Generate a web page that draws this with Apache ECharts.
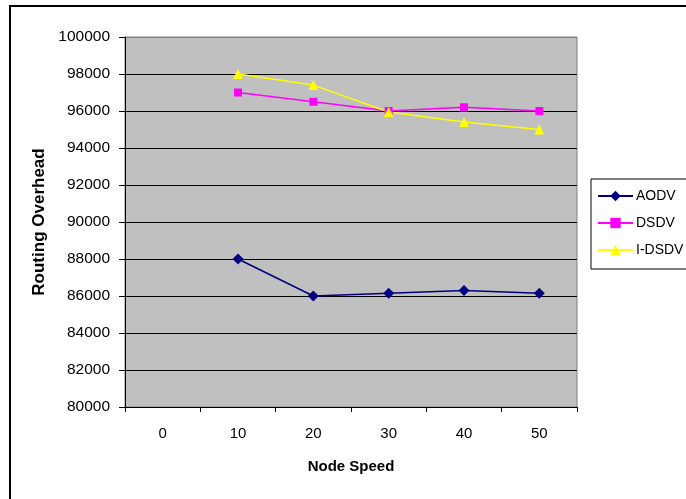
<!DOCTYPE html>
<html>
<head>
<meta charset="utf-8">
<script src="https://cdn.jsdelivr.net/npm/echarts@6/dist/echarts.min.js"></script>
<style>html,body{margin:0;padding:0;background:#fff}#c{width:686px;height:499px}</style>
</head>
<body>
<div id="c"></div>
<script>
const categories = ['0', '10', '20', '30', '40', '50'];
const aodv = [null, 88000, 86000, 86150, 86300, 86150];
const dsdv = [null, 97000, 96500, 96000, 96200, 96000];
const idsdv = [null, 98000, 97400, 95950, 95400, 95000];

const chart = echarts.init(document.getElementById('c'), null, {renderer: 'canvas'});
const font = 'Liberation Sans, Arial, sans-serif';
const gridColors = ['#000','#000','#000','#000','#000','#000','#000','#000','#000','#000','#808080'];
chart.setOption({
  animation: false,
  backgroundColor: '#fff',
  textStyle: {fontFamily: font},
  graphic: [{
    type: 'rect', z: -1, silent: true,
    shape: {x: 10, y: 6, width: 800, height: 600},
    style: {fill: 'none', stroke: '#000', lineWidth: 2}
  }],
  grid: {left: 125, top: 37, width: 452, height: 370, show: true,
         backgroundColor: '#C0C0C0', borderColor: '#808080', borderWidth: 1},
  legend: {
    orient: 'vertical', left: 591, top: 179,
    padding: [10, 60, 12, 6], itemGap: 13, itemWidth: 35, itemHeight: 13,
    borderColor: '#000', borderWidth: 1, backgroundColor: '#fff',
    textStyle: {fontFamily: font, fontSize: 14, color: '#000', padding: [0,0,0,-2]},
    data: ['AODV', 'DSDV', 'I-DSDV']
  },
  xAxis: {
    type: 'category', data: categories, boundaryGap: true,
    name: 'Node Speed', nameLocation: 'middle', nameGap: 52,
    nameTextStyle: {fontFamily: font, fontSize: 15, fontWeight: 'bold', color: '#000'},
    axisLine: {lineStyle: {color: '#000', width: 1}},
    axisTick: {show: true, length: 5, lineStyle: {color: '#000'}},
    axisLabel: {fontFamily: font, fontSize: 15, color: '#000', margin: 19},
    splitLine: {show: false}
  },
  yAxis: {
    type: 'value', min: 80000, max: 100000, interval: 2000,
    name: 'Routing Overhead', nameLocation: 'middle', nameGap: 76,
    nameTextStyle: {fontFamily: font, fontSize: 17, fontWeight: 'bold', color: '#000'},
    axisLine: {show: true, lineStyle: {color: '#000', width: 1}},
    axisTick: {show: true, length: 6, lineStyle: {color: '#000'}},
    axisLabel: {fontFamily: font, fontSize: 15.5, color: '#000', margin: 15,
                formatter: function (v) { return String(v); }},
    splitLine: {show: true, lineStyle: {color: gridColors, width: 1}}
  },
  series: [
    {name: 'AODV', type: 'line', data: aodv, symbol: 'diamond', symbolSize: 11,
     color: '#000080', lineStyle: {width: 1.5, color: '#000080'}, itemStyle: {color: '#000080'}},
    {name: 'DSDV', type: 'line', data: dsdv, symbol: 'rect', symbolSize: 8,
     color: '#FF00FF', lineStyle: {width: 1.5, color: '#FF00FF'}, itemStyle: {color: '#FF00FF'}},
    {name: 'I-DSDV', type: 'line', data: idsdv, symbol: 'triangle', symbolSize: 10,
     color: '#FFFF00', lineStyle: {width: 1.5, color: '#FFFF00'}, itemStyle: {color: '#FFFF00'}}
  ]
});
</script>
</body>
</html>
